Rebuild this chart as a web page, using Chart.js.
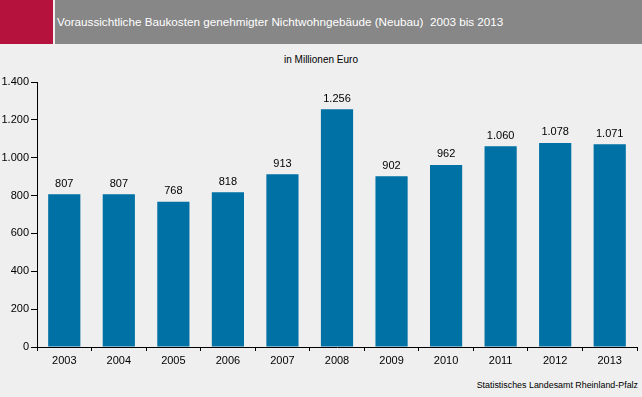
<!DOCTYPE html>
<html>
<head>
<meta charset="utf-8">
<script src="https://cdn.jsdelivr.net/npm/chart.js@4"></script>
<style>
  html, body { margin: 0; padding: 0; }
  body { width: 642px; height: 397px; background: #eeefee; position: relative; overflow: hidden; font-family: "Liberation Sans", Arial, sans-serif; }
  #red { position: absolute; left: 0; top: 0; width: 53px; height: 44px; background: #b5123e; }
  #band { position: absolute; left: 55px; top: 0; width: 587px; height: 44px; background: #878787; }
  #title { position: absolute; left: 57px; top: 15px; color: #fff; font-size: 11.7px; white-space: pre; }
  #unit { position: absolute; left: 0; width: 642px; top: 54px; text-align: center; font-size: 10px; color: #000; }
  #source { position: absolute; right: 4px; top: 380px; font-size: 8.9px; color: #000; }
  #chart { position: absolute; left: 0; top: 0; }
</style>
</head>
<body>
<div id="red"></div>
<div id="band"></div>
<div id="title">Voraussichtliche Baukosten genehmigter Nichtwohngebäude (Neubau)  2003 bis 2013</div>
<div id="unit">in Millionen Euro</div>
<div id="source">Statistisches Landesamt Rheinland-Pfalz</div>
<canvas id="chart" width="642" height="397"></canvas>
<script>
// Baukosten in Mio. Euro
const years = ['2003', '2004', '2005', '2006', '2007', '2008', '2009', '2010', '2011', '2012', '2013'];
const kosten = [807, 807, 768, 818, 913, 1256, 902, 962, 1060, 1078, 1071];
const yTicks = [0, 200, 400, 600, 800, 1000, 1200, 1400];

const fmt = v => String(v).replace(/\B(?=(\d{3})+(?!\d))/g, '.');

// Werte über den Balken
const valueLabels = {
    id: 'valueLabels',
    afterDatasetsDraw(chart) {
        const ctx = chart.ctx;
        const meta = chart.getDatasetMeta(0);
        ctx.save();
        ctx.font = '11px "Liberation Sans", Arial, sans-serif';
        ctx.fillStyle = '#000';
        ctx.textAlign = 'center';
        ctx.textBaseline = 'bottom';
        meta.data.forEach((bar, i) => {
            ctx.fillText(fmt(kosten[i]), bar.x, bar.y - 5);
        });
        ctx.restore();
    }
};

new Chart(document.getElementById('chart'), {
    type: 'bar',
    data: {
        labels: years,
        datasets: [{
            data: kosten,
            backgroundColor: '#0071a4',
            categoryPercentage: 0.59,
            barPercentage: 1
        }]
    },
    options: {
        responsive: false,
        animation: false,
        layout: { padding: { top: 82, right: 5, bottom: 0, left: 0 } },
        plugins: { legend: { display: false }, tooltip: { enabled: false } },
        scales: {
            x: {
                afterFit: s => { s.height = 50; },
                grid: { offset: true, drawOnChartArea: false, drawTicks: true, tickLength: 4, color: '#000' },
                border: { display: true, color: '#000', width: 1 },
                ticks: { color: '#000', font: { size: 11, family: '"Liberation Sans", Arial, sans-serif' }, padding: 3 }
            },
            y: {
                min: 0,
                max: 1400,
                afterFit: s => { s.width = 37; },
                afterBuildTicks: s => { s.ticks = yTicks.map(v => ({ value: v })); },
                grid: { drawOnChartArea: false, drawTicks: true, tickLength: 6, color: '#000' },
                border: { display: true, color: '#000', width: 1 },
                ticks: { color: '#000', font: { size: 11, family: '"Liberation Sans", Arial, sans-serif' }, padding: 2, callback: v => fmt(v) }
            }
        }
    },
    plugins: [valueLabels]
});
</script>
</body>
</html>
